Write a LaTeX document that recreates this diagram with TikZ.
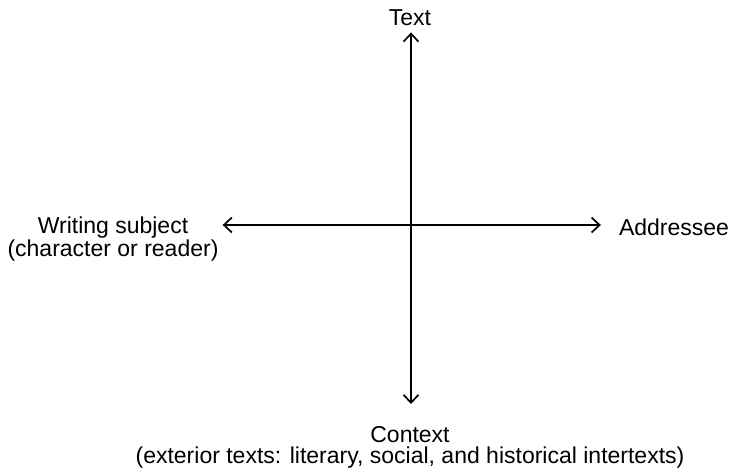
\documentclass[tikz,border=0pt]{standalone}
\usepackage{fontspec}
\setmainfont{Liberation Sans}
\usetikzlibrary{arrows.meta, positioning}

\begin{document}
\begin{tikzpicture}[
    x=1pt, y=-1pt,
    every node/.style={font=\fontsize{23}{21}\selectfont, inner sep=0pt},
    pole/.style={align=center},
    axis/.style={<->, line width=1.7pt, >={Straight Barb[length=8pt, width=15pt]}},
]
\useasboundingbox (0,0) rectangle (730,474);

% Centre of the cross
\coordinate (o) at (411,225);

% Labels at the four ends
\node[anchor=base] (text) at (410,25) {Text};
\node[anchor=base] (addressee) at (674,235) {Addressee};
\node[pole, anchor=north] (subject) at (113,217) {Writing subject\\(character or reader)};
\node[pole, anchor=north] (context) at (410,426) {Context\\(exterior texts: literary, social, and historical intertexts)};

% Axes
\draw[axis, shorten <=7pt, shorten >=22pt] (text.south -| o) -- (context.north -| o);
\draw[axis, shorten <=4pt, shorten >=18pt] (subject.east |- o) -- (addressee.west |- o);

\end{tikzpicture}
\end{document}
